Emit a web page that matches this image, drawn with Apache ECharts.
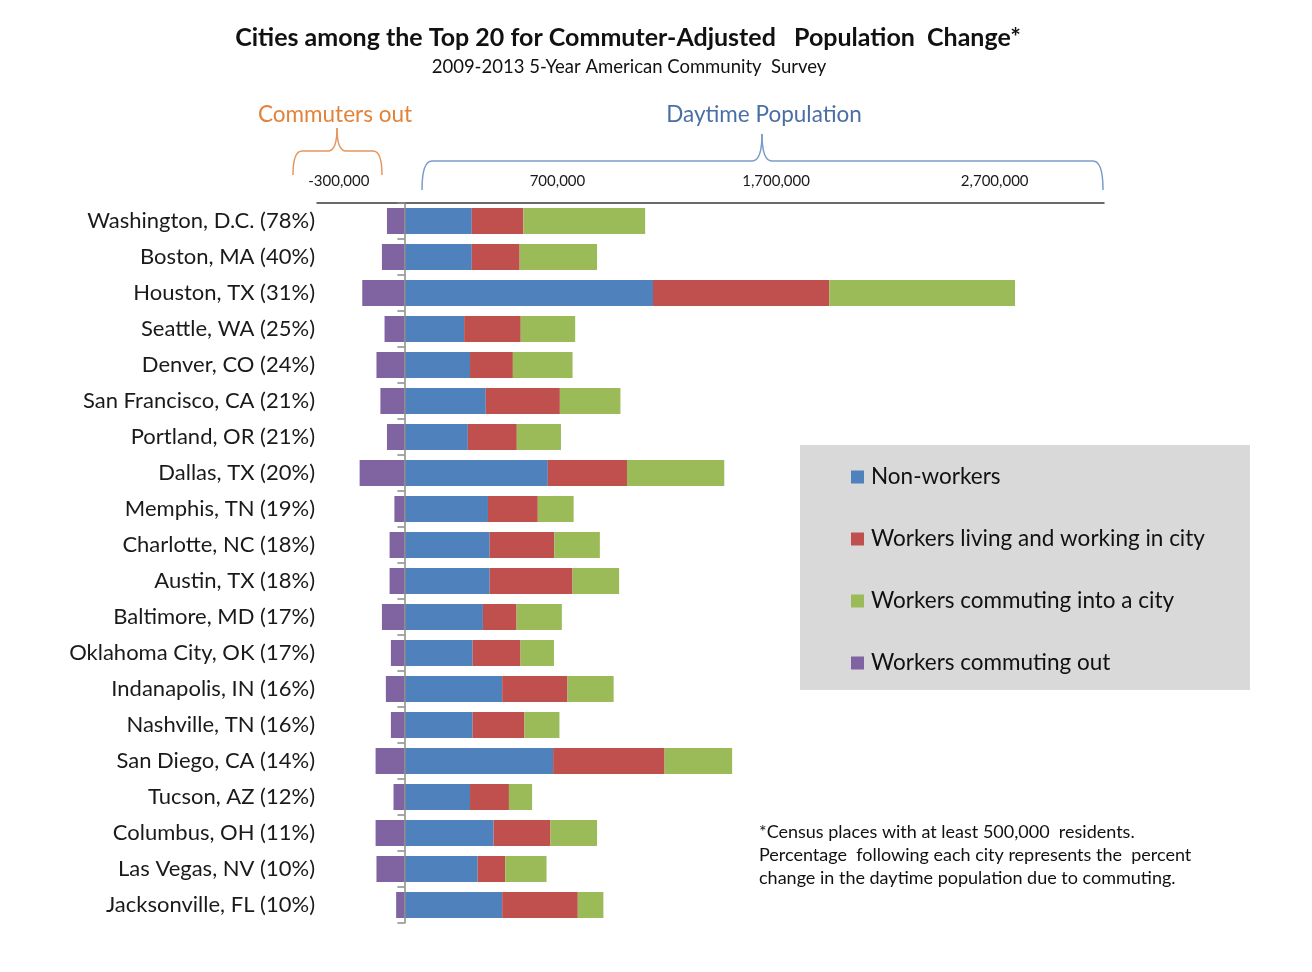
<!DOCTYPE html>
<html>
<head>
<meta charset="utf-8">
<style>
  html, body { margin: 0; padding: 0; background: #ffffff; }
  #chart { width: 1312px; height: 972px; }
</style>
<script src="https://cdn.jsdelivr.net/npm/echarts@6/dist/echarts.min.js"></script>
</head>
<body>
<div id="chart"></div>
<script>
// ---- Data ----
var cities = [
  "Washington, D.C. (78%)", "Boston, MA (40%)", "Houston, TX (31%)", "Seattle, WA (25%)",
  "Denver, CO (24%)", "San Francisco, CA (21%)", "Portland, OR (21%)", "Dallas, TX (20%)",
  "Memphis, TN (19%)", "Charlotte, NC (18%)", "Austin, TX (18%)", "Baltimore, MD (17%)",
  "Oklahoma City, OK (17%)", "Indanapolis, IN (16%)", "Nashville, TN (16%)", "San Diego, CA (14%)",
  "Tucson, AZ (12%)", "Columbus, OH (11%)", "Las Vegas, NV (10%)", "Jacksonville, FL (10%)"
];
var nonWorkers = [308000, 308000, 1137000, 273000, 300000, 372000, 290000, 656000, 382000, 390000,
                  390000, 359000, 312000, 447000, 312000, 680000, 300000, 408000, 335000, 447000];
var livingWorking = [236000, 219000, 807000, 259000, 196000, 339000, 224000, 362000, 228000, 295000,
                     379000, 154000, 219000, 299000, 237000, 510000, 178000, 260000, 126000, 346000];
var commutingIn = [557000, 354000, 849000, 249000, 273000, 277000, 202000, 445000, 164000, 209000,
                   213000, 207000, 153000, 211000, 160000, 309000, 106000, 213000, 189000, 117000];
var commutingOut = [-80000, -103000, -193000, -91000, -128000, -110000, -80000, -205000, -46000, -68000,
                    -68000, -103000, -62000, -85000, -62000, -132000, -50000, -132000, -128000, -38000];
var seriesNames = ["Non-workers", "Workers living and working in city", "Workers commuting into a city", "Workers commuting out"];
var tickLabelValues = [-300000, 700000, 1700000, 2700000];

var FONT = "Lato, 'Open Sans', sans-serif";
var chart = echarts.init(document.getElementById('chart'), null, { renderer: 'canvas' });

// curly brace built from lines and quadratic curves
function brace(x0, x1, xm, yh, yb, ytop, r, color) {
  var st = { stroke: color, lineWidth: 1.5, fill: null };
  function q(ax, ay, cx, cy, bx, by) {
    return { type: 'bezierCurve', shape: { x1: ax, y1: ay, x2: bx, y2: by, cpx1: cx, cpy1: cy }, style: st };
  }
  function l(ax, ay, bx, by) {
    return { type: 'line', shape: { x1: ax, y1: ay, x2: bx, y2: by }, style: st };
  }
  return [
    q(x0, yb, x0, yh, x0 + r, yh),
    l(x0 + r, yh, xm - r, yh),
    q(xm - r, yh, xm, yh, xm, ytop),
    q(xm, ytop, xm, yh, xm + r, yh),
    l(xm + r, yh, x1 - r, yh),
    q(x1 - r, yh, x1, yh, x1, yb)
  ];
}

var graphics = [
  { type: 'rect', z: -10, shape: { x: 800, y: 445, width: 450, height: 245 }, style: { fill: '#D9D9D9' } },
  { type: 'text', x: 628, y: 38, style: { text: 'Cities among the Top 20 for Commuter-Adjusted   Population  Change*', font: 'bold 25px ' + FONT, fill: '#111', textAlign: 'center', textVerticalAlign: 'middle' } },
  { type: 'text', x: 629, y: 67, style: { text: '2009-2013 5-Year American Community  Survey', font: '18.5px ' + FONT, fill: '#111', textAlign: 'center', textVerticalAlign: 'middle' } },
  { type: 'text', x: 335, y: 115, style: { text: 'Commuters out', font: '22.5px ' + FONT, fill: '#E3833A', textAlign: 'center', textVerticalAlign: 'middle' } },
  { type: 'text', x: 764, y: 115, style: { text: 'Daytime Population', font: '22.5px ' + FONT, fill: '#4A6FA5', textAlign: 'center', textVerticalAlign: 'middle' } },
  { type: 'text', x: 759, y: 821, style: { text: '*Census places with at least 500,000  residents.\nPercentage  following each city represents the  percent\nchange in the daytime population due to commuting.', font: '18px ' + FONT, lineHeight: 23, fill: '#111', textAlign: 'left', textVerticalAlign: 'top' } }
].concat(brace(293, 382, 337, 151, 175, 128, 9, '#E8955A'))
 .concat(brace(422, 1103, 762, 161, 190, 134, 10, '#7A9CC9'));

var option = {
  backgroundColor: '#ffffff',
  animation: false,
  grid: { left: 317, right: 208, top: 203, height: 720, containLabel: false, outerBoundsMode: 'none' },
  xAxis: {
    type: 'value',
    position: 'top',
    min: -400000,
    max: 3200000,
    interval: 100000,
    axisLine: { show: true, onZero: false, lineStyle: { color: '#3a3a3a', width: 1.5 } },
    axisTick: { show: false },
    splitLine: { show: false },
    axisLabel: {
      margin: 14,
      fontFamily: FONT,
      fontSize: 15,
      color: '#1a1a1a',
      formatter: function (v) {
        return tickLabelValues.indexOf(Math.round(v)) >= 0 ? Math.round(v).toLocaleString('en-US') : '';
      }
    }
  },
  yAxis: {
    type: 'category',
    inverse: true,
    data: cities,
    z: 10,
    axisLine: { show: true, lineStyle: { color: '#8a8a8a', width: 1.5 } },
    axisTick: { show: true, length: 7, lineStyle: { color: '#8a8a8a', width: 1.5 } },
    axisLabel: { margin: 2, fontFamily: FONT, fontSize: 22, color: '#1a1a1a' }
  },
  legend: {
    orient: 'vertical',
    left: 846,
    top: 460,
    itemWidth: 13,
    itemHeight: 13,
    itemGap: 38,
    icon: 'rect',
    data: seriesNames,
    textStyle: { fontFamily: FONT, fontSize: 22.5, color: '#111', lineHeight: 24, padding: [0, 0, 0, 2] }
  },
  series: [
    { name: seriesNames[0], type: 'bar', stack: 'pop', barWidth: 26, data: nonWorkers, itemStyle: { color: '#4F81BD' } },
    { name: seriesNames[1], type: 'bar', stack: 'pop', barWidth: 26, data: livingWorking, itemStyle: { color: '#C0504D' } },
    { name: seriesNames[2], type: 'bar', stack: 'pop', barWidth: 26, data: commutingIn, itemStyle: { color: '#9BBB59' } },
    { name: seriesNames[3], type: 'bar', stack: 'pop', barWidth: 26, data: commutingOut, itemStyle: { color: '#8064A2' } }
  ],
  graphic: graphics
};
chart.setOption(option);
</script>
</body>
</html>
